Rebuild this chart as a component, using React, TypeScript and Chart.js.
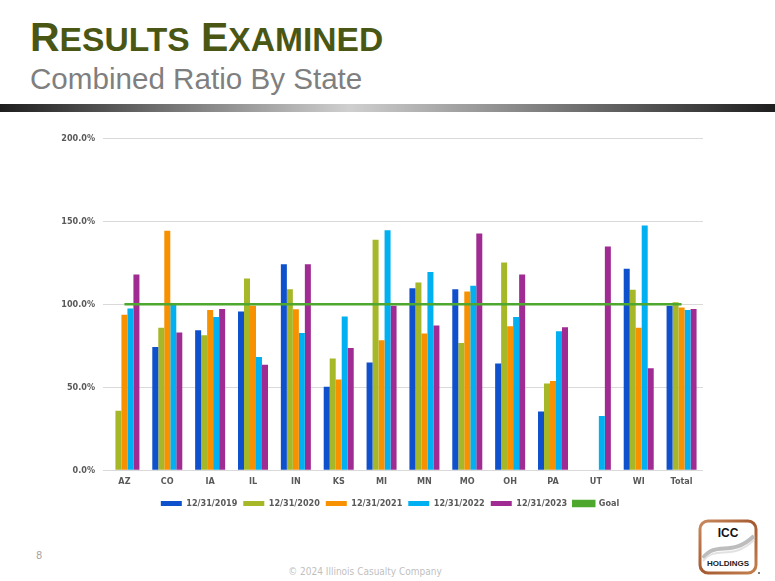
import React, { useEffect, useRef } from "react";
import { Chart, registerables } from "chart.js";

Chart.register(...registerables);

const categories = ["AZ", "CO", "IA", "IL", "IN", "KS", "MI", "MN", "MO", "OH", "PA", "UT", "WI", "Total"];
const ratio2019 = [null, 74.2, 84.4, 95.7, 124.2, 50.3, 64.9, 109.7, 109.1, 64.3, 35.4, null, 121.4, 99.1];
const ratio2020 = [35.8, 85.8, 81.4, 115.6, 109.1, 67.3, 138.9, 113.2, 76.6, 125.2, 52.3, null, 108.7, 101.3];
const ratio2021 = [93.7, 144.3, 96.5, 99.1, 97.0, 54.7, 78.4, 82.4, 107.7, 86.8, 53.7, null, 85.8, 98.1];
const ratio2022 = [97.5, 99.9, 92.3, 68.3, 82.7, 92.7, 144.7, 119.4, 111.2, 92.3, 83.8, 32.6, 147.5, 96.5];
const ratio2023 = [118.0, 83.0, 97.1, 63.5, 124.2, 73.6, 99.1, 87.2, 142.7, 118.0, 86.2, 134.9, 61.5, 97.1];
const goal = [100, 100, 100, 100, 100, 100, 100, 100, 100, 100, 100, 100, 100, 100];
const seriesLabels = ["12/31/2019", "12/31/2020", "12/31/2021", "12/31/2022", "12/31/2023", "Goal"];
const yTicks = [0, 50, 100, 150, 200];

const COLORS = ["#0F50CC", "#A6B828", "#F79100", "#00B0F0", "#A02B93", "#4EA72E"];
const FONT = "'Liberation Sans Narrow', 'DejaVu Sans Condensed', 'Liberation Sans', sans-serif";

function RatioChart() {
  const ref = useRef<HTMLCanvasElement | null>(null);
  useEffect(() => {
    if (!ref.current) return;
    const barSeries = [ratio2019, ratio2020, ratio2021, ratio2022, ratio2023];
    const datasets: any[] = barSeries.map((d, i) => ({
      type: "bar",
      label: seriesLabels[i],
      data: d,
      backgroundColor: COLORS[i],
      borderWidth: 0,
      categoryPercentage: 0.7,
      barPercentage: 1,
      order: 1,
    }));
    datasets.push({
      type: "line",
      label: seriesLabels[5],
      data: goal,
      borderColor: COLORS[5],
      backgroundColor: COLORS[5],
      borderWidth: 2.5,
      pointRadius: 0,
      fill: false,
      order: 0,
    });
    const chart = new Chart(ref.current, {
      type: "bar",
      data: { labels: categories, datasets },
      options: {
        animation: false,
        responsive: true,
        maintainAspectRatio: false,
        layout: { padding: { top: 1, left: 0, right: 0, bottom: 0 } },
        plugins: {
          tooltip: { enabled: false },
          legend: {
            position: "bottom",
            labels: {
              boxWidth: 21,
              boxHeight: 5,
              padding: 6,
              color: "#595959",
              font: { family: FONT, size: 9, weight: "bold" },
              sort: (a: any, b: any) => a.datasetIndex - b.datasetIndex,
            },
          },
        },
        scales: {
          x: {
            grid: { display: false, drawTicks: false },
            border: { display: false },
            ticks: {
              padding: 6,
              color: "#595959",
              font: { family: FONT, size: 9, weight: "bold" },
              maxRotation: 0,
              autoSkip: false,
            },
          },
          y: {
            min: 0,
            max: 200,
            afterBuildTicks: (s: any) => {
              s.ticks = yTicks.map((v) => ({ value: v }));
            },
            afterFit: (s: any) => {
              s.width = 48;
            },
            grid: { color: "#D9D9D9", lineWidth: 1, drawTicks: false },
            border: { display: false },
            ticks: {
              padding: 8,
              color: "#595959",
              font: { family: FONT, size: 9, weight: "bold" },
              callback: (v: any) => Number(v).toFixed(1) + "%",
            },
          },
          y2: {
            position: "right",
            display: true,
            grid: { display: false, drawTicks: false },
            border: { display: false },
            ticks: { display: false },
            afterFit: (s: any) => {
              s.width = 22;
            },
          },
        },
      },
    });
    return () => chart.destroy();
  }, []);
  return <canvas ref={ref} />;
}

function Logo() {
  return (
    <svg width="66" height="60" viewBox="0 0 66 60" style={{ position: "absolute", left: 697, top: 518 }}>
      <defs>
        <linearGradient id="brd" x1="0" y1="0" x2="1" y2="1">
          <stop offset="0" stopColor="#C98A5E" />
          <stop offset="0.5" stopColor="#A5592F" />
          <stop offset="1" stopColor="#C4804F" />
        </linearGradient>
      </defs>
      <rect x="3" y="3" width="56" height="52" rx="8" ry="8" fill="#FFFFFF" stroke="url(#brd)" strokeWidth="3" />
      <path d="M6 40 C 20 22, 34 40, 57 18" stroke="#BDBDBD" strokeWidth="4" fill="none" />
      <path d="M6 43 C 20 26, 34 44, 57 22" stroke="#E2E2E2" strokeWidth="2" fill="none" />
      <text x="31" y="19" textAnchor="middle" fontFamily="'Liberation Sans', sans-serif" fontWeight="bold" fontSize="12" fill="#111">ICC</text>
      <text x="31" y="48" textAnchor="middle" fontFamily="'Liberation Sans Narrow', 'Liberation Sans', sans-serif" fontWeight="bold" fontSize="8" fill="#222">HOLDINGS</text>
      <circle cx="62" cy="55" r="1" fill="#555" />
    </svg>
  );
}

export default function App() {
  return (
    <div
      style={{
        position: "absolute",
        left: 0,
        top: 0,
        width: 775,
        height: 581,
        background: "#FFFFFF",
        overflow: "hidden",
        fontFamily: "'Liberation Sans', Arial, sans-serif",
      }}
    >
      <div
        style={{
          position: "absolute",
          left: 30,
          top: 17,
          fontSize: 41,
          lineHeight: "41px",
          fontWeight: "bold",
          color: "#4A5714",
          whiteSpace: "nowrap",
        }}
      >
        R<span style={{ fontSize: 33.6 }}>ESULTS</span> E<span style={{ fontSize: 33.6 }}>XAMINED</span>
      </div>
      <div
        style={{
          position: "absolute",
          left: 30,
          top: 64,
          fontSize: 29.6,
          lineHeight: "29px",
          color: "#7F7F7F",
          whiteSpace: "nowrap",
        }}
      >
        Combined Ratio By State
      </div>
      <div
        style={{
          position: "absolute",
          left: 0,
          top: 104,
          width: 775,
          height: 8,
          background: "linear-gradient(to right, #1E1E1E 0%, #CFCFCF 45%, #1E1E1E 100%)",
        }}
      />
      <div style={{ position: "absolute", left: 55, top: 125, width: 670, height: 393 }}>
        <RatioChart />
      </div>
      <div
        style={{
          position: "absolute",
          left: 36,
          top: 549,
          fontSize: 11,
          color: "#A6A6A6",
          fontFamily: FONT,
        }}
      >
        8
      </div>
      <div
        style={{
          position: "absolute",
          left: 0,
          width: 730,
          top: 566,
          textAlign: "center",
          fontSize: 10,
          color: "#BFBFBF",
          fontFamily: FONT,
        }}
      >
        © 2024 Illinois Casualty Company
      </div>
      <Logo />
    </div>
  );
}
